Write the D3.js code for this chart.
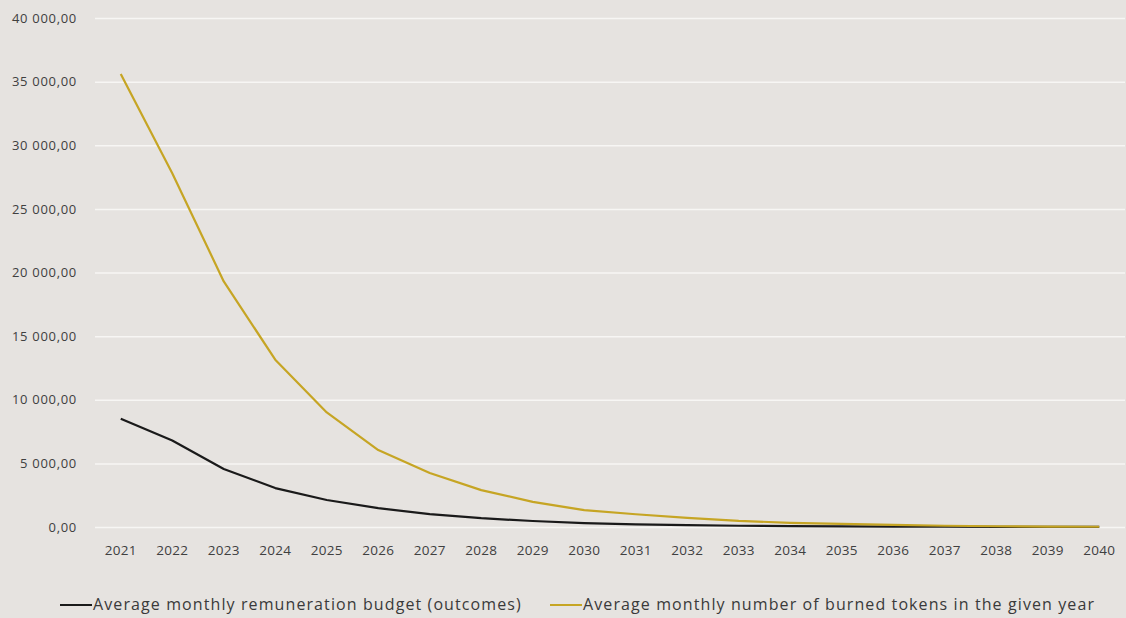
<!DOCTYPE html>
<html>
<head>
<meta charset="utf-8">
<script src="https://cdn.jsdelivr.net/npm/d3@7"></script>
<style>
  html, body { margin: 0; padding: 0; background: #e6e3e0; }
  svg { display: block; font-family: "Open Sans", "DejaVu Sans", sans-serif; }
  .tick text { fill: #404040; }
</style>
</head>
<body>
<svg id="chart"></svg>
<script>
const years = ['2021','2022','2023','2024','2025','2026','2027','2028','2029','2030',
               '2031','2032','2033','2034','2035','2036','2037','2038','2039','2040'];
const budget = [8500, 6800, 4560, 3060, 2120, 1480, 1010, 690, 470, 300,
                200, 140, 100, 70, 50, 35, 25, 15, 10, 5];
const burned = [35600, 27800, 19300, 13150, 9000, 6050, 4240, 2900, 1970, 1320,
                1000, 720, 480, 330, 240, 160, 100, 60, 35, 20];
const yTicks = [0, 5000, 10000, 15000, 20000, 25000, 30000, 35000, 40000];

const seriesNames = ['Average monthly remuneration budget (outcomes)',
                     'Average monthly number of burned tokens in the given year'];
const seriesColors = ['#1a1a1a', '#c6a524'];

const width = 1126, height = 618;
const margin = { top: 18, right: 1, bottom: 91, left: 95 };

const svg = d3.select('#chart').attr('width', width).attr('height', height);

const x = d3.scaleBand()
  .domain(years)
  .range([margin.left, width - margin.right]);

const y = d3.scaleLinear()
  .domain([0, 40000])
  .range([height - margin.bottom, margin.top]);

const fmt = v => {
  const s = d3.format(',.2f')(v);
  return s.replace(/,/g, ' ').replace('.', ',');
};

// gridlines
svg.append('g')
  .attr('transform', `translate(${margin.left},0)`)
  .call(d3.axisLeft(y).tickValues(yTicks).tickSize(-(width - margin.left - margin.right)).tickFormat(''))
  .call(g => g.select('.domain').remove())
  .call(g => g.selectAll('line').attr('stroke', '#f7f6f4').attr('stroke-width', 1.5));

// y labels
svg.append('g')
  .attr('transform', `translate(${margin.left - 15},0)`)
  .call(d3.axisLeft(y).tickValues(yTicks).tickSize(0).tickFormat(fmt))
  .call(g => g.select('.domain').remove())
  .call(g => g.selectAll('text').attr('font-size', 13).attr('letter-spacing', 0.7)
    .attr('font-family', '"Open Sans", sans-serif'));

// x labels
svg.append('g')
  .attr('transform', `translate(0,${height - margin.bottom + 15})`)
  .call(d3.axisBottom(x).tickSize(0))
  .call(g => g.select('.domain').remove())
  .call(g => g.selectAll('text').attr('font-size', 13.5).attr('letter-spacing', 0.3)
    .attr('font-family', '"Open Sans", sans-serif'));

const line = d3.line()
  .x((d, i) => x(years[i]) + x.bandwidth() / 2)
  .y(d => y(d));

[budget, burned].forEach((s, k) => {
  svg.append('path')
    .datum(s)
    .attr('fill', 'none')
    .attr('stroke', seriesColors[k])
    .attr('stroke-width', 2.2)
    .attr('stroke-linejoin', 'round')
    .attr('d', line);
});

// legend
const legendX = [60, 550];
const legend = svg.append('g').attr('transform', `translate(0,${height - 8})`);
seriesNames.forEach((name, k) => {
  const g = legend.append('g').attr('transform', `translate(${legendX[k]},0)`);
  g.append('line')
    .attr('x1', 0).attr('x2', 32)
    .attr('y1', -5).attr('y2', -5)
    .attr('stroke', seriesColors[k])
    .attr('stroke-width', 2);
  g.append('text')
    .attr('x', 33)
    .attr('y', 0)
    .attr('font-size', 16)
    .attr('letter-spacing', 1.1)
    .attr('fill', '#3a3a3a')
    .text(name);
});
</script>
</body>
</html>
